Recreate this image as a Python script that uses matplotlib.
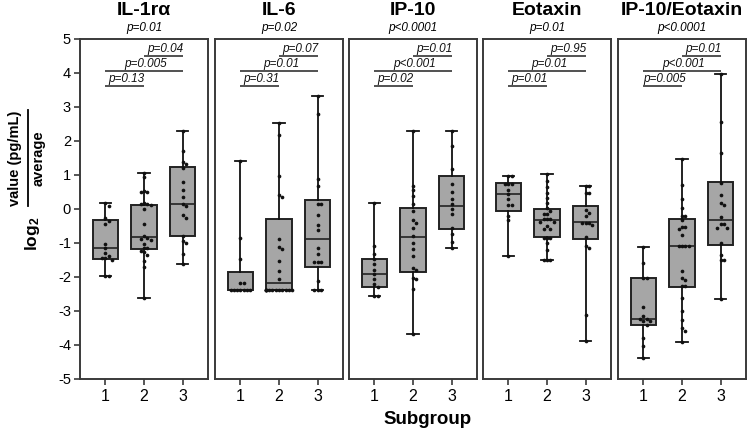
import numpy as np
import matplotlib
matplotlib.use("Agg")
import matplotlib.pyplot as plt
from matplotlib.lines import Line2D

plt.rcParams['font.family'] = ['Liberation Sans', 'DejaVu Sans']
plt.rcParams['mathtext.fontset'] = 'custom'
plt.rcParams['mathtext.rm'] = 'Liberation Sans'
plt.rcParams['mathtext.bf'] = 'Liberation Sans:bold'
plt.rcParams['mathtext.it'] = 'Liberation Sans:italic'

# ---------------- data ----------------
panel_titles = ["IL-1rα", "IL-6", "IP-10", "Eotaxin", "IP-10/Eotaxin"]
overall_p = ["p=0.01", "p=0.02", "p<0.0001", "p=0.01", "p<0.0001"]
# pairwise p-values: (1 vs 2, 1 vs 3, 2 vs 3)
pair_p = [
    ["p=0.13", "p=0.005", "p=0.04"],
    ["p=0.31", "p=0.01", "p=0.07"],
    ["p=0.02", "p<0.001", "p=0.01"],
    ["p=0.01", "p=0.01", "p=0.95"],
    ["p=0.005", "p<0.001", "p=0.01"],
]
subgroups = [1, 2, 3]
y_ticks = [-5, -4, -3, -2, -1, 0, 1, 2, 3, 4, 5]
x_label = "Subgroup"
y_label_num = "value (pg/mL)"
y_label_den = "average"

# box statistics per subgroup: [min, q1, median, q3, max]
il1ra_box = [[-1.98, -1.47, -1.14, -0.33, 0.19],
             [-2.62, -1.19, -0.81, 0.12, 1.05],
             [-1.61, -0.80, 0.16, 1.24, 2.28]]
il6_box = [[-2.37, -2.37, -2.37, -1.85, 1.42],
           [-2.37, -2.37, -2.19, -0.29, 2.53],
           [-2.37, -1.70, -0.89, 0.27, 3.31]]
ip10_box = [[-2.57, -2.28, -1.90, -1.48, 0.17],
            [-3.68, -1.85, -0.83, 0.04, 2.28],
            [-1.16, -0.59, 0.10, 0.98, 2.30]]
eotaxin_box = [[-1.38, -0.06, 0.43, 0.75, 0.97],
               [-1.51, -0.83, -0.33, -0.01, 1.02],
               [-3.89, -0.87, -0.37, 0.09, 0.68]]
ratio_box = [[-4.37, -3.40, -3.24, -2.03, -1.11],
             [-3.92, -2.30, -1.09, -0.30, 1.47],
             [-2.66, -1.06, -0.33, 0.78, 3.97]]

# individual values per subgroup
il1ra_pts = [
    [0.19, 0.09, -0.27, -0.35, -0.43, -1.02, -1.14, -1.29, -1.39, -1.44, -1.44, -1.49, -1.96, -1.98],
    [1.05, 0.94, 0.53, 0.51, 0.51, 0.19, 0.14, 0.14, 0.12, -0.01, -0.43, -0.80, -0.84, -0.88,
     -0.90, -1.02, -1.14, -1.14, -1.24, -1.27, -1.34, -1.53, -1.71, -2.62],
    [2.28, 1.71, 1.39, 1.33, 1.22, 0.80, 0.55, 0.35, 0.14, 0.09, -0.19, -0.26, -0.80, -0.94,
     -1.00, -1.31, -1.61],
]
il6_pts = [
    [1.42, -0.85, -1.47, -2.17, -2.17] + [-2.37] * 7,
    [2.53, 2.17, 0.97, 0.40, 0.36, -0.88, -1.12, -1.17, -1.53, -1.81, -2.07] + [-2.37] * 12,
    [3.31, 2.79, 0.89, 0.69, 0.16, 0.16, -0.19, -0.47, -0.62, -1.14, -1.33, -1.56, -1.56,
     -1.56, -2.12, -2.37, -2.37, -2.37],
]
ip10_pts = [
    [0.17, -1.09, -1.32, -1.48, -1.62, -1.78, -1.90, -2.05, -2.20, -2.30, -2.57, -2.57],
    [2.28, 0.68, 0.55, 0.38, 0.15, -0.06, -0.33, -0.40, -0.57, -0.79, -0.99, -1.17, -1.37,
     -1.74, -1.80, -2.02, -2.07, -2.34, -3.68],
    [2.30, 1.85, 1.17, 0.73, 0.49, 0.29, 0.14, 0.00, -0.15, -0.55, -0.75, -0.97, -1.16],
]
eotaxin_pts = [
    [0.97, 0.97, 0.73, 0.73, 0.73, 0.55, 0.43, 0.30, 0.11, 0.11, -0.21, -0.33, -1.38],
    [1.02, 0.81, 0.65, 0.48, 0.33, 0.18, 0.03, -0.06, -0.14, -0.14, -0.30, -0.30, -0.30,
     -0.37, -0.37, -0.50, -0.60, -0.60, -0.85, -0.85, -0.85, -1.00, -1.22, -1.51, -1.51, -1.51],
    [0.68, 0.68, 0.48, 0.48, -0.04, -0.11, -0.21, -0.40, -0.40, -0.40, -0.47, -0.83, -1.09,
     -1.16, -3.13, -3.89],
]
ratio_pts = [
    [-1.11, -1.58, -2.03, -2.03, -2.89, -3.16, -3.23, -3.23, -3.30, -3.30, -3.40, -3.78, -4.04, -4.37],
    [1.47, 0.71, 0.29, 0.04, -0.21, -0.21, -0.33, -0.52, -0.52, -0.60, -0.77, -1.09, -1.09,
     -1.09, -1.09, -1.81, -2.04, -2.08, -2.27, -2.27, -2.62, -2.99, -3.25, -3.50, -3.58, -3.92],
    [3.97, 2.57, 1.65, 0.76, 0.41, 0.19, 0.12, -0.24, -0.45, -0.45, -0.55, -0.55, -0.99,
     -1.36, -1.51, -1.51, -2.66],
]

all_box = [il1ra_box, il6_box, ip10_box, eotaxin_box, ratio_box]
all_pts = [il1ra_pts, il6_pts, ip10_pts, eotaxin_pts, ratio_pts]
bracket_levels = [3.63, 4.07, 4.51]


def swarm_offsets(vals, dx=0.085, dy=0.11):
    order = np.argsort(vals)[::-1]
    placed = []
    offs = np.zeros(len(vals))
    for i in order:
        v = vals[i]
        for k in [0, 1, -1, 2, -2, 3, -3, 4, -4]:
            x = k * dx
            ok = all(abs(x - px) >= dx * 0.95 or abs(v - pv) >= dy for px, pv in placed)
            if ok:
                break
        placed.append((x, v))
        offs[i] = x
    return offs


# ---------------- figure ----------------
fig = plt.figure(figsize=(7.5, 4.32), dpi=100)
lefts = [80, 215, 349, 483, 618]
W, H = 750.0, 432.0
ax_w = 128
bottom_px, top_px = 379, 39

frame_col = '#3a3a3a'
for pi in range(5):
    ax = fig.add_axes([lefts[pi] / W, 1 - bottom_px / H, ax_w / W, (bottom_px - top_px) / H])
    stats = []
    for g in range(3):
        mn, q1, med, q3, mx = all_box[pi][g]
        stats.append(dict(whislo=mn, q1=q1, med=med, q3=q3, whishi=mx, fliers=[]))
    ax.bxp(stats, positions=subgroups, widths=0.66, patch_artist=True, showfliers=False,
           boxprops=dict(facecolor='#a6a6a6', edgecolor='#222222', linewidth=1.4),
           medianprops=dict(color='#222222', linewidth=1.2),
           whiskerprops=dict(color='#111111', linewidth=1.3),
           capprops=dict(color='#111111', linewidth=1.3), capwidths=0.3, zorder=2)
    for g in range(3):
        vals = np.array(all_pts[pi][g], dtype=float)
        offs = swarm_offsets(vals)
        ax.scatter(subgroups[g] + offs, vals, s=7, color='#111111', zorder=4, linewidths=0)

    ax.set_xlim(0.34, 3.66)
    ax.set_ylim(-5, 5)
    ax.set_xticks(subgroups)
    ax.set_xticklabels([str(s) for s in subgroups], fontsize=11.5)
    ax.tick_params(axis='x', direction='out', length=4.5, width=1.2, color=frame_col, pad=3)
    if pi == 0:
        ax.set_yticks(y_ticks)
        ax.set_yticklabels([str(t) for t in y_ticks], fontsize=10.5)
        ax.tick_params(axis='y', direction='out', length=4.5, width=1.2, color=frame_col, pad=2)
    else:
        ax.set_yticks([])
    for s in ax.spines.values():
        s.set_color(frame_col)
        s.set_linewidth(1.4)

    # pairwise brackets
    pairs = [(1, 2), (1, 3), (2, 3)]
    for (a, b), lvl, txt in zip(pairs, bracket_levels, pair_p[pi]):
        ax.plot([a, b], [lvl, lvl], color='#333333', lw=1.2, solid_capstyle='butt', zorder=3)
        ax.text((a + b) / 2 + 0.05, lvl + 0.02, txt, ha='center', va='bottom',
                fontsize=8.5, style='italic', color='#111111')

    ax.text(0.5, 1.083, panel_titles[pi], transform=ax.transAxes, ha='center', va='center',
            fontsize=14, fontweight='bold')
    ax.text(0.5, 1.032, overall_p[pi], transform=ax.transAxes, ha='center', va='center',
            fontsize=8.5, style='italic')

# x label
fig.text(428 / W, 1 - 420 / H, x_label, ha='center', va='center', fontsize=13.5, fontweight='bold')

# y label built as log2 (value / average) fraction
fig.text(15 / W, 1 - 158 / H, y_label_num, rotation=90, ha='center', va='center',
         fontsize=10.5, fontweight='bold')
fig.text(39 / W, 1 - 158 / H, y_label_den, rotation=90, ha='center', va='center',
         fontsize=10.5, fontweight='bold')
fig.add_artist(Line2D([28 / W, 28 / W], [1 - 110 / H, 1 - 206 / H], color='black', lw=1.3))
fig.text(32 / W, 1 - 234 / H, r'$\mathbf{log_2}$', rotation=90, ha='center', va='center',
         fontsize=12.5)

fig.savefig('out.png', dpi=100)
